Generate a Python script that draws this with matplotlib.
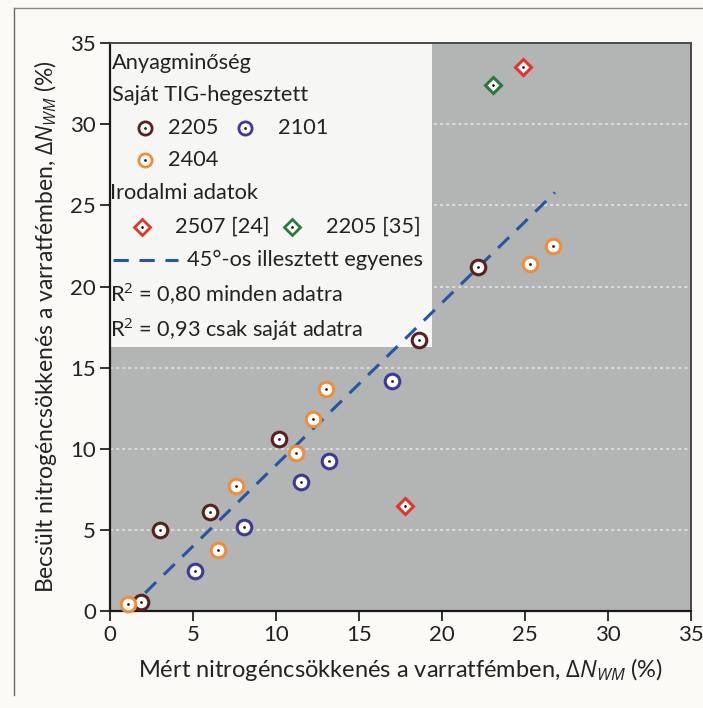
import matplotlib
matplotlib.use("Agg")
import matplotlib.pyplot as plt
from matplotlib.patches import Rectangle
from matplotlib.lines import Line2D

plt.rcParams['font.family'] = ['Lato', 'DejaVu Sans']
plt.rcParams['mathtext.fontset'] = 'custom'
plt.rcParams['mathtext.rm'] = 'Open Sans'
plt.rcParams['mathtext.it'] = 'Open Sans:italic'

# Own TIG-welded samples: measured vs. estimated nitrogen loss (%)
x_2205 = [1.85, 2.99, 6.02, 10.18, 18.6, 22.19]
y_2205 = [0.57, 5.0, 6.13, 10.6, 16.7, 21.2]
x_2101 = [5.12, 8.07, 11.5, 13.2, 16.97]
y_2101 = [2.49, 5.2, 7.96, 9.26, 14.2]
x_2404 = [1.08, 6.5, 7.57, 11.18, 12.25, 13.0, 25.3, 26.7]
y_2404 = [0.43, 3.77, 7.7, 9.77, 11.85, 13.7, 21.36, 22.5]
# Literature data
x_2507 = [17.77, 24.9]
y_2507 = [6.48, 33.56]
x_2205_lit = [23.09]
y_2205_lit = [32.4]
# 45-degree fitted line y = x - offset
fit_offset = 1.0
fit_x = [1.0, 26.8]

xticks = [0, 5, 10, 15, 20, 25, 30, 35]
yticks = [0, 5, 10, 15, 20, 25, 30, 35]

c_2205 = '#5b1f1f'
c_2101 = '#3b3a98'
c_2404 = '#ee8e3a'
c_2507 = '#e0352f'
c_2205l = '#2a7a3e'
c_fit = '#2356a3'
bg_page = '#fbfaf6'
bg_plot = '#b3b4b4'

fig = plt.figure(figsize=(7.03, 7.08), dpi=100, facecolor=bg_page)
ax = fig.add_axes([0.1565, 0.137, 0.8265, 0.802])
ax.set_facecolor(bg_plot)
ax.set_xlim(0, 35)
ax.set_ylim(0, 35)
ax.set_xticks(xticks)
ax.set_yticks(yticks)
ax.tick_params(axis='both', direction='out', length=7, width=1.3,
               labelsize=16, colors='#222222', pad=3)
for side in ['left', 'bottom']:
    ax.spines[side].set_linewidth(1.6)
    ax.spines[side].set_color('#1a1a1a')
for side in ['top', 'right']:
    ax.spines[side].set_linewidth(1.4)
    ax.spines[side].set_color('#4a4a4a')

# dotted white horizontal grid
for yv in yticks[1:-1]:
    ax.axhline(yv, color='#e6e6e6', lw=1.1, ls=(0, (2, 2)), zorder=1)

# white legend panel in the upper-left corner
ax.add_patch(Rectangle((0, 0.465), 0.554, 0.535, transform=ax.transAxes,
                       facecolor='#f6f6f5', edgecolor='none', zorder=2))

ax.plot([fit_x[0], fit_x[1]], [fit_x[0] - fit_offset, fit_x[1] - fit_offset],
        color=c_fit, lw=2.2, ls=(0, (5, 3.5)), zorder=3)


def dot_marker(xs, ys, color, marker, size, zorder=4):
    ax.plot(xs, ys, ls='none', marker=marker, ms=size, mfc='white',
            mec=color, mew=2.2, zorder=zorder, clip_on=False)
    ax.plot(xs, ys, ls='none', marker='o', ms=2.0, mfc='#2a1a1a',
            mec='none', zorder=zorder + 1, clip_on=False)


dot_marker(x_2205, y_2205, c_2205, 'o', 10.5)
dot_marker(x_2101, y_2101, c_2101, 'o', 10.5)
dot_marker(x_2404, y_2404, c_2404, 'o', 10.5)
dot_marker(x_2507, y_2507, c_2507, 'D', 8.5)
dot_marker(x_2205_lit, y_2205_lit, c_2205l, 'D', 8.5)

# legend content
W, H = 703.0, 708.0
x0, x1, y0, y1 = 110.0, 691.0, 611.0, 43.0


def fx(px):
    return (px - x0) / (x1 - x0)


def fy(py):
    return (y0 - py) / (y0 - y1)


tcol = '#222222'
fs = 15.7


def ltext(px, py, s):
    ax.text(fx(px), fy(py), s, transform=ax.transAxes, fontsize=fs,
            color=tcol, va='center', ha='left', zorder=6)


def lmark(px, py, color, marker, size):
    ax.plot([fx(px)], [fy(py)], transform=ax.transAxes, ls='none',
            marker=marker, ms=size, mfc='white', mec=color, mew=2.0, zorder=6)
    ax.plot([fx(px)], [fy(py)], transform=ax.transAxes, ls='none',
            marker='o', ms=2.0, mfc='#2a1a1a', mec='none', zorder=7)


ltext(112, 63, 'Anyagminőség')
ltext(112, 95, 'Saját TIG-hegesztett')
lmark(145, 128, c_2205, 'o', 9.5)
ltext(168, 128, '2205')
lmark(245, 128, c_2101, 'o', 9.5)
ltext(278, 128, '2101')
lmark(145, 160, c_2404, 'o', 9.5)
ltext(168, 160, '2404')
ltext(110, 193, 'Irodalmi adatok')
lmark(142, 227, c_2507, 'D', 8)
ltext(175, 227, '2507 [24]')
lmark(292, 227, c_2205l, 'D', 8)
ltext(326, 227, '2205 [35]')
ax.add_line(Line2D([fx(113), fx(178)], [fy(260), fy(260)], transform=ax.transAxes,
                   color=c_fit, lw=2.2, ls=(0, (5, 3.5)), zorder=6))
ltext(187, 260, '45°-os illesztett egyenes')
ltext(110, 294, 'R$^2$ = 0,80 minden adatra')
ltext(110, 329, 'R$^2$ = 0,93 csak saját adatra')

ax.set_xlabel(r'Mért nitrogéncsökkenés a varratfémben, $\mathit{\Delta N}_{\mathit{WM}}$ (%)',
              fontsize=17, color=tcol, labelpad=8)
ax.set_ylabel(r'Becsült nitrogéncsökkenés a varratfémben, $\mathit{\Delta N}_{\mathit{WM}}$ (%)',
              fontsize=16.5, color=tcol, labelpad=8)

# page frame lines
fig.add_artist(Line2D([14 / W, 14 / W], [1 - 8 / H, 1 - 695 / H], color='#666666', lw=1.0))
fig.add_artist(Line2D([14 / W, 1.0], [1 - 8 / H, 1 - 8 / H], color='#888888', lw=1.0))

fig.savefig('out.png', dpi=100, facecolor=bg_page)
